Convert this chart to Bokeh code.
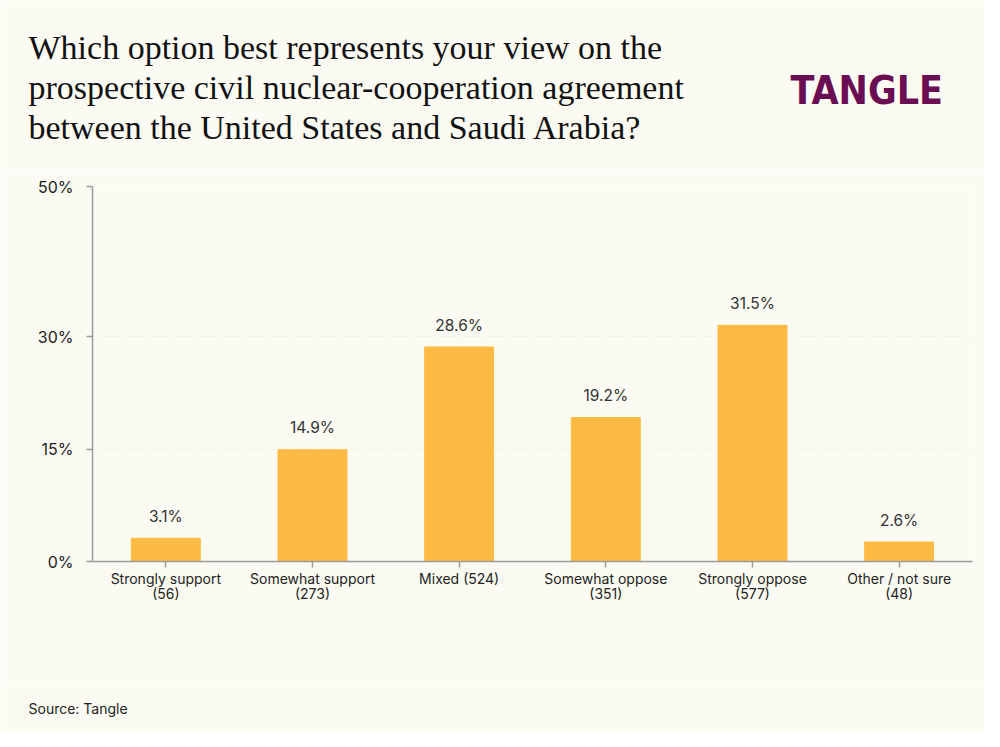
from bokeh.core.properties import value
from bokeh.embed import file_html
from bokeh.layouts import column
from bokeh.models import ColumnDataSource, FactorRange, FixedTicker, Label, Range1d
from bokeh.plotting import figure
from bokeh.resources import INLINE

categories = ["Strongly support", "Somewhat support", "Mixed", "Somewhat oppose",
              "Strongly oppose", "Other / not sure"]
counts = [56, 273, 524, 351, 577, 48]
shares = [3.1, 14.9, 28.6, 19.2, 31.5, 2.6]
y_ticks = [0, 15, 30, 50]

title_lines = [
    "Which option best represents your view on the",
    "prospective civil nuclear-cooperation agreement",
    "between the United States and Saudi Arabia?",
]

BG = "#fcfbf3"
BAR = "#fdbb43"
INK = "#222222"
SANS = "Inter"
W = 984


def tick_label(name, n):
    # short names stay on one line, long ones wrap the count underneath
    if len(name) < 10:
        return f"{name} ({n})"
    return f"{name}\n({n})"


def blank(height):
    # an axis-free strip whose frame is the whole canvas, for free text
    f = figure(width=W, height=height, x_range=Range1d(0, 1), y_range=Range1d(0, 1),
               output_backend="svg", toolbar_location=None,
               x_axis_location=None, y_axis_location=None, min_border=0,
               background_fill_color=BG, border_fill_color=BG)
    f.grid.visible = False
    f.outline_line_color = None
    if "frame_align" in f.properties():
        f.frame_align = False
    return f


# header: question and logo
head = blank(170)
for i, line in enumerate(title_lines):
    head.add_layout(Label(x=28, y=123 - 40 * i, x_units="screen", y_units="screen",
                          text=line, text_font="Liberation Serif", text_font_size="34px",
                          text_color="#111111", text_baseline="alphabetic"))
head.add_layout(Label(x=790, y=80, x_units="screen", y_units="screen",
                      text="TANGLE", text_font="DejaVu Sans Condensed",
                      text_font_style="bold", text_font_size="39px",
                      text_color="#6b0d52", text_baseline="alphabetic"))

# chart
labels = [tick_label(c, n) for c, n in zip(categories, counts)]
source = ColumnDataSource(dict(
    x=labels,
    top=shares,
    text=[f"{s}%" for s in shares],
))

p = figure(
    width=W, height=510,
    x_range=FactorRange(*labels, range_padding=0),
    y_range=Range1d(0, 50),
    output_backend="svg", toolbar_location=None,
    min_border_left=92, min_border_right=12,
    min_border_top=16, min_border_bottom=119,
    background_fill_color=BG, border_fill_color=BG,
)
p.outline_line_color = None

p.vbar(x="x", top="top", width=0.47, color=BAR, source=source)
p.text(x="x", y="top", text="text", source=source,
       text_align="center", text_baseline="middle", y_offset=-22,
       text_font=value(SANS), text_font_size="15.5px", text_color="#333333")

p.xgrid.grid_line_color = None
p.ygrid.ticker = FixedTicker(ticks=y_ticks)
p.ygrid.grid_line_color = "#e6e4da"
p.ygrid.grid_line_dash = "3 3"
p.ygrid.grid_line_alpha = 0.6

p.yaxis.ticker = FixedTicker(ticks=y_ticks)
p.yaxis.major_label_overrides = {t: f"{t}%" for t in y_ticks}
p.yaxis.minor_tick_line_color = None
p.yaxis.major_tick_in = 0
p.yaxis.major_tick_out = 6
p.yaxis.major_label_standoff = 13

p.xaxis.major_tick_in = 0
p.xaxis.major_tick_out = 6
p.xaxis.major_label_standoff = 2
p.xaxis.major_label_text_line_height = 0.9

for ax in (p.xaxis, p.yaxis):
    ax.axis_line_color = "#9a9a9a"
    ax.axis_line_width = 1.5
    ax.major_tick_line_color = "#9a9a9a"
    ax.major_tick_line_width = 1.5
    ax.major_label_text_font = SANS
    ax.major_label_text_color = INK
p.yaxis.major_label_text_font_size = "16px"
p.xaxis.major_label_text_font_size = "14px"

# footer: source line
foot = blank(51)
foot.add_layout(Label(x=28, y=23, x_units="screen", y_units="screen",
                      text="Source: Tangle", text_font=SANS, text_font_size="14px",
                      text_color=INK, text_baseline="alphabetic"))

page = column(head, p, foot, spacing=0)
open("out.html", "w").write(file_html(page, INLINE))
